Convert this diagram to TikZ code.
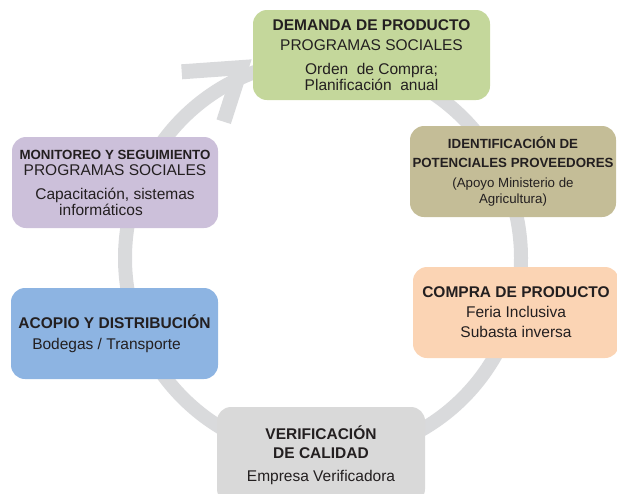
\documentclass[tikz,border=0pt]{standalone}
\usepackage{fontspec}
\setmainfont{Liberation Sans}
\usepackage{xcolor}
\usepackage{tikz}
\usetikzlibrary{calc}
\definecolor{demanda}{RGB}{196, 215, 155}
\definecolor{monitoreo}{RGB}{204, 192, 218}
\definecolor{proveedores}{RGB}{196, 189, 151}
\definecolor{compra}{RGB}{251, 212, 180}
\definecolor{acopio}{RGB}{141, 180, 226}
\definecolor{calidad}{RGB}{217, 217, 217}
\definecolor{ringgray}{RGB}{217, 218, 220}
\definecolor{txtgray}{RGB}{35, 31, 32}
\newcommand{\stagefont}{\fontsize{15.5}{20}\selectfont}
\newcommand{\notefont}{\fontsize{13.3}{16}\selectfont}
\tikzstyle{stage} = [rectangle, rounded corners=14pt, minimum width=206pt, minimum height=91pt, inner sep=0pt, align=center, text=txtgray, font=\stagefont]
\tikzstyle{ring} = [line width=14pt, draw=ringgray]
\tikzstyle{ringhead} = [line width=15pt, draw=ringgray, line join=miter]

\begin{document}
\begin{tikzpicture}[x=1pt, y=-1pt]
\useasboundingbox (0,0) rectangle (617,493);

% Cycle ring with its arrow head
\coordinate (hub) at (323,258);
\coordinate (tip) at (241.1,67.6);
\draw[ring] (hub) circle[radius=198pt];
\draw[ringhead] ([shift={(-59.4,4.2)}]tip) -- (tip) -- ++(-17.4,54.1);

% Stages of the cycle
\node[stage, fill=demanda, minimum width=237pt, minimum height=90pt] (demanda) at (371.5,55) {
    \textbf{DEMANDA DE PRODUCTO}\\
    PROGRAMAS SOCIALES\\[4pt]
    Orden~ de Compra;\\[-4pt]
    Planificación~ anual
};
\node[stage, fill=proveedores, font=\notefont] (proveedores) at (513,171.5) {
    \textbf{IDENTIFICACIÓN DE}\\[2.7pt]
    \textbf{POTENCIALES PROVEEDORES}\\[4pt]
    (Apoyo Ministerio de\\
    Agricultura)
};
\node[stage, fill=compra] (compra) at (516,312.5) {
    \textbf{COMPRA DE PRODUCTO}\\
    Feria Inclusiva\\
    Subasta inversa
};
\node[stage, fill=calidad, minimum width=208pt, minimum height=96pt] (calidad) at (321,455) {
    \textbf{VERIFICACIÓN}\\[-1pt]
    \textbf{DE CALIDAD}\\[2.7pt]
    Empresa Verificadora
};
\node[stage, fill=acopio, minimum width=207pt] (acopio) at (114.5,333.5) {
    \textbf{ACOPIO Y DISTRIBUCIÓN}\\[0.7pt]
    Bodegas / Transporte\hspace{16pt}
};
\node[stage, fill=monitoreo] (monitoreo) at (115,182.5) {
    {\notefont\bfseries MONITOREO Y SEGUIMIENTO}\\[-4pt]
    PROGRAMAS SOCIALES\\[4pt]
    Capacitación, sistemas\hspace{8pt}\\[-4pt]
    informáticos\hspace{28pt}
};

\end{tikzpicture}
\end{document}
